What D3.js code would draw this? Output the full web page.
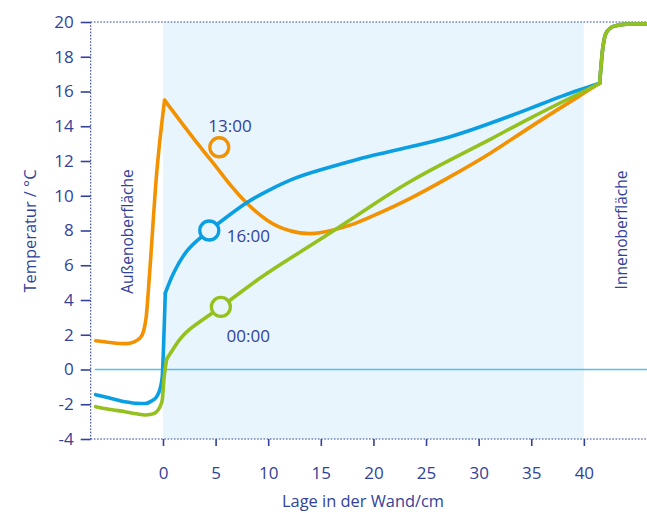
<!DOCTYPE html>
<html>
<head>
<meta charset="utf-8">
<script src="https://cdn.jsdelivr.net/npm/d3@7"></script>
<style>
  html, body { margin: 0; padding: 0; background: #ffffff; }
  svg { display: block; }
  text { font-family: "Open Sans", "Noto Sans", sans-serif; fill: #32429a; }
</style>
</head>
<body>
<svg id="chart" width="647" height="513"></svg>
<script>
// ---------- data ----------
const yTicks = [-4, -2, 0, 2, 4, 6, 8, 10, 12, 14, 16, 18, 20];
const xTicks = [0, 5, 10, 15, 20, 25, 30, 35, 40];
const wallRange = [0, 40];           // shaded wall layer (cm)
const xLabel = "Lage in der Wand/cm";
const yLabel = "Temperatur / °C";
const outsideLabel = "Außenoberfläche";
const insideLabel = "Innenoberfläche";

// curves: each is a list of segments (split at kinks), points [x cm, T °C]
const curve1300 = [
  [[-6.4,1.65],[-5,1.55],[-3.5,1.49],[-2.8,1.58],[-2.2,1.8],[-1.85,2.2],[-1.6,3.0],[-1.3,5.3],[-0.6,11.3],[0.15,15.5]],
  [[0.15,15.5],[2.9,13.3],[5,11.7],[6.5,10.55],[8,9.55],[10,8.55],[12,8.0],[14,7.82],[16,8.0],[18,8.35],[20,8.85],[23.5,9.85],[27.3,11.1],[31.1,12.45],[34.9,13.95],[39.6,15.75],[41.5,16.47]],
  [[41.5,16.47],[41.8,18.5],[42.1,19.35],[42.8,19.75],[44,19.88],[46,19.9]]
];
const curve1600 = [
  [[-6.4,-1.45],[-5,-1.65],[-3.6,-1.85],[-2.5,-1.95],[-1.7,-1.96],[-1.1,-1.82],[-0.6,-1.56],[-0.25,-1.05],[-0.07,-0.41],[0.08,1.8],[0.22,4.39]],
  [[0.22,4.39],[1.0,5.54],[2.25,6.8],[3.5,7.55],[4.4,8.0],[6.0,8.75],[7.95,9.6],[10,10.3],[12.5,11.0],[15,11.5],[17.5,11.93],[20,12.33],[23.5,12.82],[27.3,13.4],[31.1,14.17],[34.9,15.03],[38,15.75],[41.5,16.47]],
  [[41.5,16.47],[41.8,18.5],[42.1,19.35],[42.8,19.75],[44,19.88],[46,19.9]]
];
const curve0000 = [
  [[-6.4,-2.14],[-5,-2.3],[-3.6,-2.43],[-2.5,-2.55],[-1.7,-2.62],[-1.1,-2.58],[-0.6,-2.43],[-0.25,-2.1],[-0.07,-1.75],[0.1,-0.5],[0.35,0.6]],
  [[0.35,0.6],[1.2,1.4],[2.5,2.3],[5.5,3.6],[9.2,5.25],[13,6.75],[16.5,8.1],[20,9.5],[23.5,10.82],[27.3,12.06],[31.1,13.25],[35,14.5],[39.6,15.9],[41.5,16.47]],
  [[41.5,16.47],[41.8,18.5],[42.1,19.35],[42.8,19.75],[44,19.88],[46,19.9]]
];
const seriesNames = ["13:00", "16:00", "00:00"];
const seriesColors = ["#f39200", "#0a9fe2", "#95c11f"];
const seriesCurves = [curve1300, curve1600, curve0000];
// marker circles (x cm, T °C)
const markerX = [5.35, 4.4, 5.5];
const markerY = [12.79, 8.0, 3.6];

// ---------- layout ----------
const padL = 90.7, padR = 647, padT = 22, padB = 439;
const ink = "#32429a";
const svg = d3.select("#chart");

const x = d3.scaleLinear().domain([-6.87, 46]).range([padL, padR]);
const y = d3.scaleLinear().domain([-4, 20]).range([padB, padT]);

// shaded wall
svg.append("rect")
  .attr("x", x(wallRange[0])).attr("y", y(20))
  .attr("width", x(wallRange[1]) - x(wallRange[0]))
  .attr("height", y(-4) - y(20))
  .attr("fill", "#e8f5fd");

// zero line
svg.append("line")
  .attr("x1", padL + 4).attr("x2", padR)
  .attr("y1", y(0)).attr("y2", y(0))
  .attr("stroke", "#52c0ec").attr("stroke-width", 1.5);

// dotted frame lines
const dot = g => g.attr("stroke", ink).attr("stroke-width", 1.1).attr("stroke-dasharray", "1.6,1.6");
svg.append("line").attr("x1", padL).attr("x2", padL).attr("y1", padT).attr("y2", padB).call(dot);
svg.append("line").attr("x1", padL).attr("x2", padR).attr("y1", y(20)).attr("y2", y(20)).call(dot);
svg.append("line").attr("x1", padL).attr("x2", padR).attr("y1", y(-4)).attr("y2", y(-4)).call(dot);

// y axis
const yAxis = d3.axisLeft(y).tickValues(yTicks).tickSize(10).tickPadding(7).tickFormat(d => String(d));
const gy = svg.append("g").attr("transform", `translate(${padL},0)`).call(yAxis);
gy.select(".domain").remove();
gy.selectAll(".tick line").attr("stroke", ink).attr("stroke-width", 1.6);
gy.selectAll(".tick text").attr("font-size", 17).attr("fill", ink)
  .style("font-family", '"Open Sans", sans-serif');

// x axis
const xAxis = d3.axisBottom(x).tickValues(xTicks).tickSize(7).tickPadding(21).tickFormat(d => String(d));
const gx = svg.append("g").attr("transform", `translate(0,${padB})`).call(xAxis);
gx.select(".domain").remove();
gx.selectAll(".tick line").attr("stroke", ink).attr("stroke-width", 1.6);
gx.selectAll(".tick text").attr("font-size", 17).attr("fill", ink)
  .style("font-family", '"Open Sans", sans-serif');

// axis titles
svg.append("text").attr("x", 363).attr("y", 507).attr("text-anchor", "middle")
  .attr("font-size", 16.4).text(xLabel);
svg.append("text").attr("transform", "translate(36,231) rotate(-90)").attr("text-anchor", "middle")
  .attr("font-size", 16.4).text(yLabel);
svg.append("text").attr("transform", "translate(133,231.5) rotate(-90)").attr("text-anchor", "middle")
  .attr("font-size", 15.5).text(outsideLabel);
svg.append("text").attr("transform", "translate(627,230) rotate(-90)").attr("text-anchor", "middle")
  .attr("font-size", 15.5).text(insideLabel);

// curves (outer segments monotone, wall segment natural spline)
const lineMono = d3.line().x(d => x(d[0])).y(d => y(d[1])).curve(d3.curveMonotoneX);
const lineNat = d3.line().x(d => x(d[0])).y(d => y(d[1])).curve(d3.curveNatural);
seriesCurves.forEach((segs, i) => {
  const g = svg.append("g");
  segs.forEach((seg, k) => {
    g.append("path").attr("d", (k === 1 ? lineNat : lineMono)(seg))
      .attr("fill", "none").attr("stroke", seriesColors[i])
      .attr("stroke-width", 3.6).attr("stroke-linejoin", "round").attr("stroke-linecap", "round");
  });
});

// markers
const labelOffsets = [[-11, -15.5], [17.4, 11.7], [5.7, 35.2]];
seriesNames.forEach((name, i) => {
  svg.append("circle").attr("cx", x(markerX[i])).attr("cy", y(markerY[i])).attr("r", 9.5)
    .attr("fill", "#e8f5fd").attr("stroke", seriesColors[i]).attr("stroke-width", 3.3);
  svg.append("text")
    .attr("x", x(markerX[i]) + labelOffsets[i][0])
    .attr("y", y(markerY[i]) + labelOffsets[i][1])
    .attr("font-size", 17).text(name);
});
</script>
</body>
</html>
